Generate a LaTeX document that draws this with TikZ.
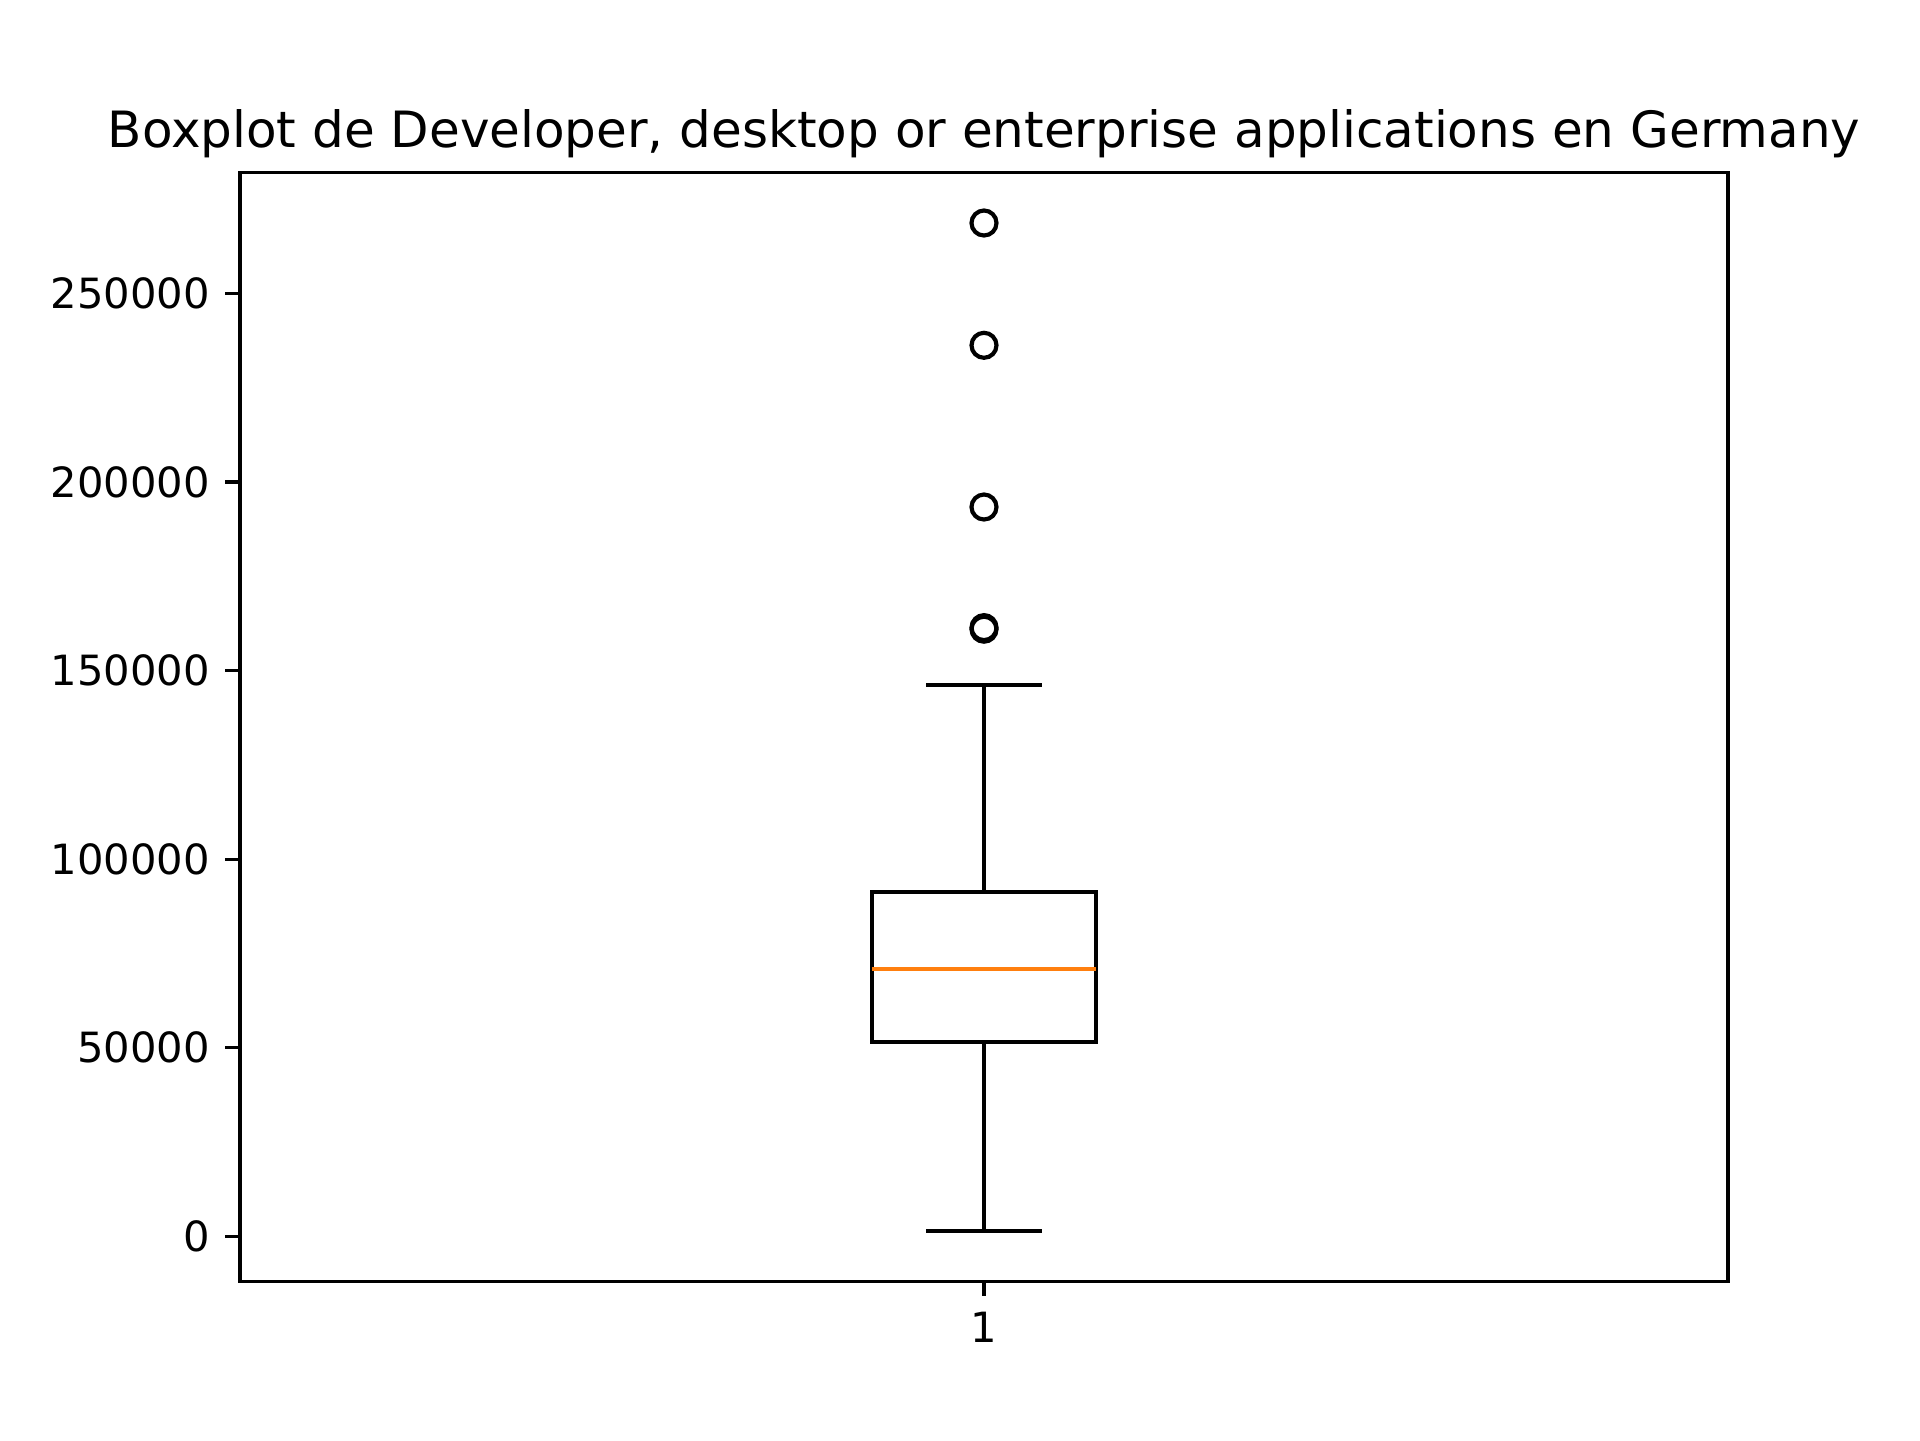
\documentclass[tikz,border=0pt]{standalone}
\usepackage{fontspec}
\setmainfont{DejaVu Sans}
\definecolor{mplorange}{HTML}{FF7F0E}
\begin{document}
\begin{tikzpicture}[x=0.24pt,y=-0.24pt,
  spine/.style={draw=black,line width=0.8pt,line join=miter},
  tickmark/.style={draw=black,line width=0.8pt},
  ticklab/.style={inner sep=0pt,font=\fontsize{10}{12}\selectfont},
  boxline/.style={draw=black,line width=1pt,line join=miter,line cap=rect},
  medianline/.style={draw=mplorange,line width=1pt},
  flier/.style={circle,draw=black,line width=1pt,minimum size=6pt,inner sep=0pt,fill=none}]
\useasboundingbox (0,0) rectangle (1920,1440);
% axes frame
\coordinate (axtl) at (240,172.8);
\coordinate (axbr) at (1728,1281.6);
\draw[spine] (axtl) rectangle (axbr);
% title
\node[inner sep=0pt,anchor=base,font=\fontsize{12}{14}\selectfont] (title) at (984,147.8) {Boxplot de Developer, desktop or enterprise applications en Germany};
% y ticks
\foreach \v/\y in {0/1236.3,50000/1047.8,100000/859.2,150000/670.7,200000/482.1,250000/293.6}{
  \coordinate (yt\v) at (240,\y);
  \coordinate (ytend\v) at (225.4,\y);
  \draw[tickmark] (yt\v) -- (ytend\v);
  \node[ticklab,anchor=east] (ylab\v) at (210.8,\y) {\v};
}
% x tick
\coordinate (xt) at (984,1281.6);
\coordinate (xtend) at (984,1296.2);
\draw[tickmark] (xt) -- (xtend);
\node[ticklab,anchor=north] (xlab) at (984,1310.8) {1};
% box
\coordinate (q1l) at (872.4,1041.7);
\coordinate (q3r) at (1095.6,891.7);
\coordinate (boxtop) at (984,891.7);
\coordinate (boxbot) at (984,1041.7);
\coordinate (captop) at (984,684.9);
\coordinate (capbot) at (984,1230.7);
\draw[boxline] (q1l) rectangle (q3r);
\draw[boxline] (boxbot) -- (capbot);
\draw[boxline] (boxtop) -- (captop);
\draw[boxline] (928.2,684.9) -- (1039.8,684.9);
\draw[boxline] (928.2,1230.7) -- (1039.8,1230.7);
\coordinate (medl) at (872.4,968.7);
\coordinate (medr) at (1095.6,968.7);
\draw[medianline] (medl) -- (medr);
% fliers
\node[flier] (f1) at (984,627.6) {};
\node[flier] (f1b) at (984,629.2) {};
\node[flier] (f2) at (984,507.0) {};
\node[flier] (f3) at (984,345.3) {};
\node[flier] (f4) at (984,223.0) {};
\end{tikzpicture}
\end{document}
